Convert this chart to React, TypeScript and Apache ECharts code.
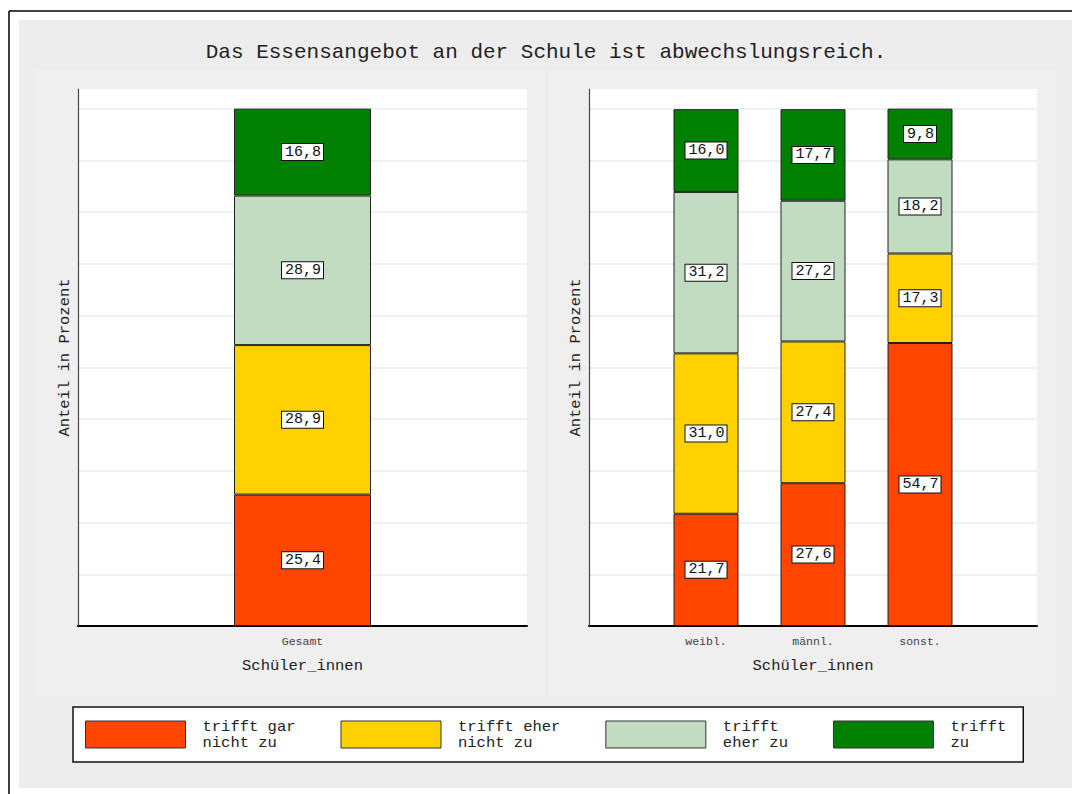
import React, { useEffect, useRef } from "react";
import * as echarts from "echarts";

const TITLE = "Das Essensangebot an der Schule ist abwechslungsreich.";
const Y_NAME = "Anteil in Prozent";
const X_NAME = "Schüler_innen";
const CATS_LEFT = ["Gesamt"];
const CATS_RIGHT = ["weibl.", "männl.", "sonst."];
const LEVELS = ["trifft gar\nnicht zu", "trifft eher\nnicht zu", "trifft\neher zu", "trifft\nzu"];
const COLORS = ["#ff4500", "#ffd100", "#c1dcc1", "#008000"];

// left panel (Gesamt), one value per level
const GESAMT = [25.4, 28.9, 28.9, 16.8];
// right panel, per level: weibl., männl., sonst.
const GAR_NICHT = [21.7, 27.6, 54.7];
const EHER_NICHT = [31.0, 27.4, 17.3];
const EHER_ZU = [31.2, 27.2, 18.2];
const ZU = [16.0, 17.7, 9.8];
const RIGHT = [GAR_NICHT, EHER_NICHT, EHER_ZU, ZU];

const FONT = "'Liberation Mono', 'DejaVu Sans Mono', monospace";
const Y_MAX = 103.8;

export default function App() {
  const ref = useRef<HTMLDivElement>(null);
  useEffect(() => {
    if (!ref.current) return;
    const chart = echarts.init(ref.current, null, { renderer: "svg" });

    const label = {
      show: true,
      position: "inside",
      formatter: (p: any) => Number(p.value).toFixed(1).replace(".", ","),
      fontFamily: FONT,
      fontSize: 15,
      lineHeight: 15,
      color: "#111",
      backgroundColor: "#fff",
      borderColor: "#111",
      borderWidth: 1,
      padding: [1, 2, 0, 3],
    };

    const yAxisVisible = (gridIndex: number) => ({
      type: "value",
      gridIndex,
      min: 0,
      max: Y_MAX,
      interval: 10,
      axisLine: { show: true, lineStyle: { color: "#444", width: 1.2 } },
      axisTick: { show: false },
      axisLabel: { show: false },
      splitLine: {
        show: true,
        showMinLine: false,
        showMaxLine: false,
        lineStyle: { color: "#e6eef0", width: 1.5 },
      },
      name: Y_NAME,
      nameLocation: "middle",
      nameGap: 5,
      nameTextStyle: { fontFamily: FONT, fontSize: 15.5, color: "#222" },
    });

    const xName = {
      name: X_NAME,
      nameLocation: "middle",
      nameGap: 32,
      nameTextStyle: { fontFamily: FONT, fontSize: 15.5, color: "#222" },
    };

    const series: any[] = [];
    LEVELS.forEach((lv, i) => {
      series.push({
        type: "bar",
        name: lv,
        xAxisIndex: 0,
        yAxisIndex: 0,
        stack: "left",
        barWidth: 137,
        data: [GESAMT[i]],
        itemStyle: { color: COLORS[i], borderColor: "#222", borderWidth: 1 },
        label,
      });
    });
    LEVELS.forEach((lv, i) => {
      series.push({
        type: "bar",
        name: lv,
        xAxisIndex: 2,
        yAxisIndex: 2,
        stack: "right",
        barWidth: 65,
        data: RIGHT[i],
        itemStyle: { color: COLORS[i], borderColor: "#222", borderWidth: 1 },
        label,
      });
    });

    chart.setOption({
      animation: false,
      backgroundColor: "#fff",
      graphic: [
        { type: "rect", z: -100, shape: { x: 19, y: 20, width: 1053, height: 768 }, style: { fill: "#ededed" }, silent: true },
        { type: "rect", z: -99, shape: { x: 35, y: 68, width: 512, height: 629 }, style: { fill: "#efefef", stroke: "#e7ecee", lineWidth: 1 }, silent: true },
        { type: "rect", z: -99, shape: { x: 547, y: 68, width: 510, height: 629 }, style: { fill: "#efefef", stroke: "#e7ecee", lineWidth: 1 }, silent: true },
        { type: "line", z: -98, shape: { x1: 9, y1: 11, x2: 1072, y2: 11 }, style: { stroke: "#000", lineWidth: 1.5 }, silent: true },
        { type: "line", z: -98, shape: { x1: 9, y1: 11, x2: 9, y2: 794 }, style: { stroke: "#000", lineWidth: 1.5 }, silent: true },
        {
          type: "text",
          x: 546,
          y: 52,
          silent: true,
          style: {
            text: TITLE,
            fill: "#222",
            fontFamily: FONT,
            fontSize: 21,
            textAlign: "center",
            textVerticalAlign: "middle",
            align: "center",
            verticalAlign: "middle",
          },
        },
      ],
      grid: [
        { left: 78, top: 89, width: 449, height: 537, show: true, backgroundColor: "#fff", borderWidth: 0 },
        { left: 589, top: 89, width: 448, height: 537, show: true, backgroundColor: "#fff", borderWidth: 0 },
        { left: 652.5, top: 89, width: 321, height: 537, show: false },
      ],
      xAxis: [
        {
          type: "category",
          gridIndex: 0,
          data: CATS_LEFT,
          axisLine: { show: true, lineStyle: { color: "#000", width: 2 } },
          axisTick: { show: false },
          axisLabel: { fontFamily: FONT, fontSize: 11.5, color: "#444", margin: 9 },
          ...xName,
        },
        {
          type: "value",
          gridIndex: 1,
          min: 0,
          max: 1,
          axisLine: { show: true, onZero: false, lineStyle: { color: "#000", width: 2 } },
          axisTick: { show: false },
          axisLabel: { show: false },
          splitLine: { show: false },
        },
        {
          type: "category",
          gridIndex: 2,
          data: CATS_RIGHT,
          axisLine: { show: false },
          axisTick: { show: false },
          axisLabel: { fontFamily: FONT, fontSize: 11.5, color: "#444", margin: 9 },
          ...xName,
        },
      ],
      yAxis: [
        yAxisVisible(0),
        yAxisVisible(1),
        { type: "value", gridIndex: 2, min: 0, max: Y_MAX, show: false, splitLine: { show: false } },
      ],
      legend: {
        left: 73,
        top: 707,
        orient: "horizontal",
        data: LEVELS,
        icon: "rect",
        itemWidth: 100,
        itemHeight: 27,
        itemGap: 45,
        padding: [11.5, 17, 11.5, 12],
        backgroundColor: "#fff",
        borderColor: "#111",
        borderWidth: 1.5,
        borderRadius: 0,
        selectedMode: false,
        itemStyle: { borderColor: "#333", borderWidth: 1 },
        textStyle: { fontFamily: FONT, fontSize: 15.5, lineHeight: 16, color: "#222", padding: [0, 0, 0, 12] },
      },
      series,
    });

    return () => chart.dispose();
  }, []);

  return (
    <div
      ref={ref}
      style={{ position: "absolute", left: 0, top: 0, width: 1072, height: 794 }}
    />
  );
}
